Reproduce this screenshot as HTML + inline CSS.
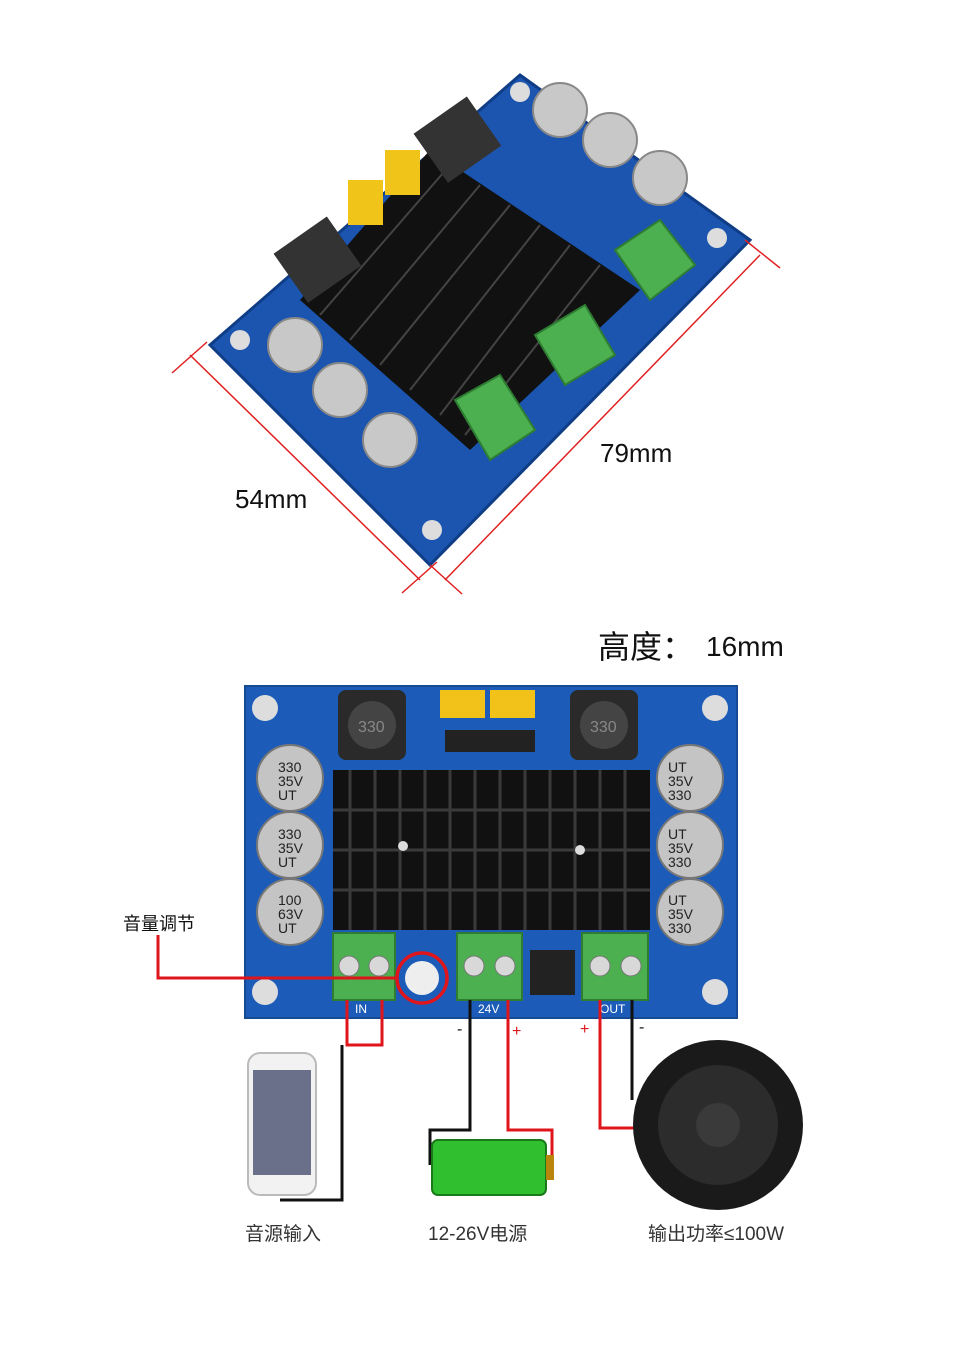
<!DOCTYPE html>
<html><head><meta charset="utf-8"><style>
html,body{margin:0;padding:0;background:#fff;width:967px;height:1369px;overflow:hidden}
svg{display:block}
text{font-family:"Liberation Sans","Noto Sans CJK SC",sans-serif}
</style></head><body>
<svg width="967" height="1369" viewBox="0 0 967 1369" xmlns="http://www.w3.org/2000/svg">
<!-- Top rotated board -->
<polygon points="520,75 750,240 430,565 210,345" fill="#1b55b0" stroke="#0f3d86" stroke-width="3"/>
<polygon points="430,150 640,290 470,450 300,300" fill="#111"/>
<g stroke="#444" stroke-width="2">
<line x1="450" y1="165" x2="320" y2="315"/><line x1="480" y1="185" x2="350" y2="340"/>
<line x1="510" y1="205" x2="380" y2="365"/><line x1="540" y1="225" x2="410" y2="390"/>
<line x1="570" y1="245" x2="440" y2="415"/><line x1="600" y1="265" x2="465" y2="435"/>
</g>
<rect x="425" y="110" width="65" height="60" fill="#333" transform="rotate(-35 457 140)"/>
<rect x="285" y="230" width="65" height="60" fill="#333" transform="rotate(-35 317 260)"/>
<rect x="348" y="180" width="35" height="45" fill="#f0c419"/>
<rect x="385" y="150" width="35" height="45" fill="#f0c419"/>
<g fill="#c8c8c8" stroke="#888" stroke-width="2">
<circle cx="560" cy="110" r="27"/><circle cx="610" cy="140" r="27"/><circle cx="660" cy="178" r="27"/>
<circle cx="295" cy="345" r="27"/><circle cx="340" cy="390" r="27"/><circle cx="390" cy="440" r="27"/>
</g>
<g fill="#4caf50" stroke="#2e7d32" stroke-width="2">
<polygon points="455,400 500,375 535,430 490,460"/>
<polygon points="535,335 585,305 615,355 565,385"/>
<polygon points="615,250 660,220 695,265 650,300"/>
</g>
<g fill="#ddd"><circle cx="520" cy="92" r="10"/><circle cx="717" cy="238" r="10"/><circle cx="240" cy="340" r="10"/><circle cx="432" cy="530" r="10"/></g>
<g stroke="#e02020" stroke-width="1.5">
<line x1="190" y1="355" x2="420" y2="580"/><line x1="172" y1="373" x2="207" y2="342"/><line x1="402" y1="593" x2="437" y2="562"/>
<line x1="445" y1="580" x2="760" y2="255"/><line x1="430" y1="565" x2="462" y2="594"/><line x1="745" y1="240" x2="780" y2="268"/>
</g>
<text x="235" y="508" font-size="26" fill="#111">54mm</text>
<text x="600" y="462" font-size="26" fill="#111">79mm</text>
<text x="598" y="658" font-size="32" fill="#111">高度：</text>
<text x="706" y="656" font-size="28" fill="#111">16mm</text>

<!-- Bottom board -->
<rect x="245" y="686" width="492" height="332" fill="#1c5cb8" stroke="#174a95" stroke-width="2"/>
<rect x="333" y="770" width="317" height="160" fill="#111"/>
<g stroke="#3a3a3a" stroke-width="3">
<line x1="350" y1="770" x2="350" y2="930"/><line x1="375" y1="770" x2="375" y2="930"/><line x1="400" y1="770" x2="400" y2="930"/>
<line x1="425" y1="770" x2="425" y2="930"/><line x1="450" y1="770" x2="450" y2="930"/><line x1="475" y1="770" x2="475" y2="930"/>
<line x1="500" y1="770" x2="500" y2="930"/><line x1="525" y1="770" x2="525" y2="930"/><line x1="550" y1="770" x2="550" y2="930"/>
<line x1="575" y1="770" x2="575" y2="930"/><line x1="600" y1="770" x2="600" y2="930"/><line x1="625" y1="770" x2="625" y2="930"/>
<line x1="333" y1="810" x2="650" y2="810"/><line x1="333" y1="850" x2="650" y2="850"/><line x1="333" y1="890" x2="650" y2="890"/>
</g>
<circle cx="403" cy="846" r="5" fill="#ddd"/><circle cx="580" cy="850" r="5" fill="#ddd"/>
<rect x="338" y="690" width="68" height="70" rx="8" fill="#2a2a2a"/><circle cx="372" cy="725" r="24" fill="#444"/>
<rect x="570" y="690" width="68" height="70" rx="8" fill="#2a2a2a"/><circle cx="604" cy="725" r="24" fill="#444"/>
<text x="358" y="732" font-size="16" fill="#888">330</text><text x="590" y="732" font-size="16" fill="#888">330</text>
<rect x="440" y="690" width="45" height="28" fill="#f2c21b"/><rect x="490" y="690" width="45" height="28" fill="#f2c21b"/>
<g fill="#222"><rect x="445" y="730" width="90" height="22"/></g>
<g fill="#c4c4c4" stroke="#777" stroke-width="2">
<circle cx="290" cy="778" r="33"/><circle cx="290" cy="845" r="33"/><circle cx="290" cy="912" r="33"/>
<circle cx="690" cy="778" r="33"/><circle cx="690" cy="845" r="33"/><circle cx="690" cy="912" r="33"/>
</g>
<g fill="#222" font-size="14"><text x="278" y="772">330</text><text x="278" y="786">35V</text><text x="278" y="800">UT</text>
<text x="278" y="839">330</text><text x="278" y="853">35V</text><text x="278" y="867">UT</text>
<text x="278" y="905">100</text><text x="278" y="919">63V</text><text x="278" y="933">UT</text>
<text x="668" y="772">UT</text><text x="668" y="786">35V</text><text x="668" y="800">330</text>
<text x="668" y="839">UT</text><text x="668" y="853">35V</text><text x="668" y="867">330</text>
<text x="668" y="905">UT</text><text x="668" y="919">35V</text><text x="668" y="933">330</text></g>
<g fill="#ddd"><circle cx="265" cy="708" r="13"/><circle cx="715" cy="708" r="13"/><circle cx="265" cy="992" r="13"/><circle cx="715" cy="992" r="13"/></g>
<g fill="#4caf50" stroke="#2e7d32" stroke-width="2">
<rect x="333" y="933" width="62" height="67"/><rect x="457" y="933" width="65" height="67"/><rect x="582" y="933" width="66" height="67"/>
</g>
<g fill="#d8d8d8" stroke="#777"><circle cx="349" cy="966" r="10"/><circle cx="379" cy="966" r="10"/>
<circle cx="474" cy="966" r="10"/><circle cx="505" cy="966" r="10"/><circle cx="600" cy="966" r="10"/><circle cx="631" cy="966" r="10"/></g>
<rect x="530" y="950" width="45" height="45" fill="#222"/>
<circle cx="422" cy="978" r="17" fill="#eee"/>
<circle cx="422" cy="978" r="25" fill="none" stroke="#e0141b" stroke-width="3.5"/>
<g fill="#fff" font-size="12"><text x="355" y="1013">IN</text><text x="478" y="1013">24V</text><text x="600" y="1013">OUT</text></g>

<!-- Wires -->
<g fill="none" stroke-width="3">
<polyline points="158,935 158,978 398,978" stroke="#e0141b"/>
<polyline points="347,1000 347,1045 382,1045 382,1000" stroke="#e0141b"/>
<polyline points="342,1045 342,1200 280,1200" stroke="#111"/>
<polyline points="470,1000 470,1130 430,1130 430,1165" stroke="#111"/>
<polyline points="508,1000 508,1130 552,1130 552,1165" stroke="#e0141b"/>
<polyline points="600,1000 600,1128 636,1128" stroke="#e0141b"/>
<polyline points="632,1000 632,1100" stroke="#111"/>
</g>
<g font-size="16" fill="#111"><text x="457" y="1034">-</text><text x="512" y="1036" fill="#e0141b">+</text><text x="580" y="1034" fill="#e0141b">+</text><text x="639" y="1032">-</text></g>
<text x="123" y="930" font-size="18" fill="#111">音量调节</text>

<!-- Phone -->
<rect x="248" y="1053" width="68" height="142" rx="12" fill="#f2f2f2" stroke="#bbb" stroke-width="2"/>
<rect x="253" y="1070" width="58" height="105" fill="#6a6f8a"/>
<!-- Battery -->
<rect x="432" y="1140" width="114" height="55" rx="6" fill="#2fbf2f" stroke="#1a7a1a" stroke-width="2"/>
<rect x="546" y="1155" width="8" height="25" fill="#b8860b"/>
<!-- Speaker -->
<circle cx="718" cy="1125" r="85" fill="#1a1a1a"/>
<circle cx="718" cy="1125" r="60" fill="#2c2c2c"/>
<circle cx="718" cy="1125" r="22" fill="#3a3a3a"/>

<g font-size="19" fill="#333">
<text x="245" y="1240">音源输入</text>
<text x="428" y="1240">12-26V电源</text>
<text x="648" y="1240">输出功率≤100W</text>
</g>
</svg>
</body></html>
